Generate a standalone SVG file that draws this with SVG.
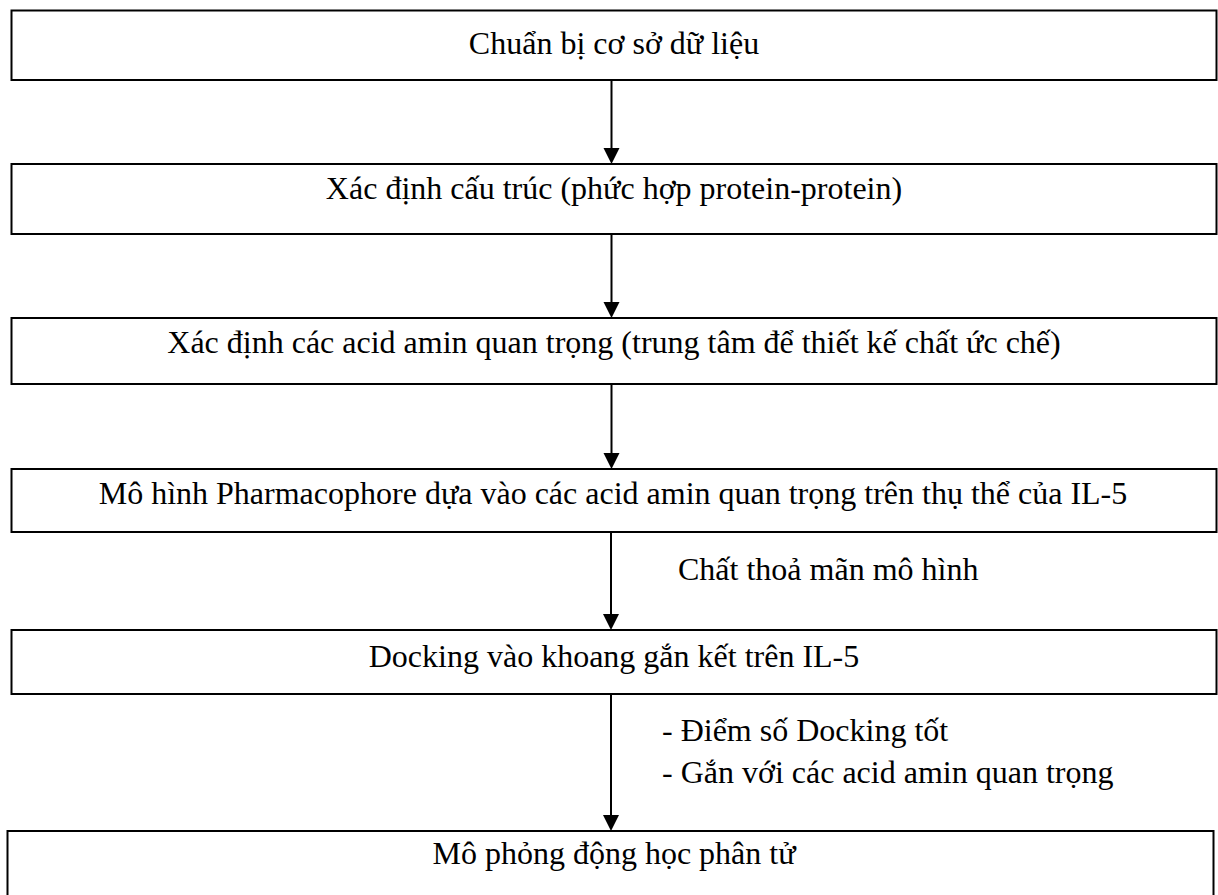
<svg xmlns="http://www.w3.org/2000/svg" width="1218" height="895" viewBox="0 0 1218 895">
<style>
.box{fill:#fff;stroke:#000;stroke-width:2}
.t{font-family:"Liberation Serif","Times New Roman",serif;font-size:32px;fill:#000}
.c{text-anchor:middle}
.conn{stroke:#000;stroke-width:2;fill:none}
.head{fill:#000}
</style>
<rect width="1218" height="895" fill="#fff"/>
<g id="connectors">
<line class="conn" x1="611.5" y1="80" x2="611.5" y2="149"/>
<path class="head" d="M603.5,148 L619.5,148 L611.5,164 Z"/>
<line class="conn" x1="611.5" y1="234" x2="611.5" y2="303"/>
<path class="head" d="M603.5,302 L619.5,302 L611.5,318 Z"/>
<line class="conn" x1="611.5" y1="384" x2="611.5" y2="454"/>
<path class="head" d="M603.5,453 L619.5,453 L611.5,469 Z"/>
<line class="conn" x1="611" y1="532" x2="611" y2="615"/>
<path class="head" d="M603,614 L619,614 L611,630 Z"/>
<line class="conn" x1="611" y1="694" x2="611" y2="816"/>
<path class="head" d="M603,815 L619,815 L611,831 Z"/>
<text class="t" x="678" y="580">Chất thoả mãn mô hình</text>
<text class="t" x="662" y="741">- Điểm số Docking tốt</text>
<text class="t" x="662" y="783">- Gắn với các acid amin quan trọng</text>
</g>
<g id="n1">
<rect class="box" x="11.5" y="10.5" width="1205" height="69.5"/>
<text class="t c" x="614" y="54">Chuẩn bị cơ sở dữ liệu</text>
</g>
<g id="n2">
<rect class="box" x="11.5" y="164" width="1205" height="70"/>
<text class="t c" x="614" y="199">Xác định cấu trúc (phức hợp protein-protein)</text>
</g>
<g id="n3">
<rect class="box" x="11.5" y="318" width="1205" height="66"/>
<text class="t c" x="614" y="353">Xác định các acid amin quan trọng (trung tâm để thiết kế chất ức chế)</text>
</g>
<g id="n4">
<rect class="box" x="11.5" y="469" width="1205" height="63"/>
<text class="t c" x="613" y="504">Mô hình Pharmacophore dựa vào các acid amin quan trọng trên thụ thể của IL-5</text>
</g>
<g id="n5">
<rect class="box" x="11.5" y="630" width="1205" height="64"/>
<text class="t c" x="614" y="667">Docking vào khoang gắn kết trên IL-5</text>
</g>
<g id="n6">
<rect class="box" x="7.5" y="831" width="1206" height="80"/>
<text class="t c" x="614" y="864">Mô phỏng động học phân tử</text>
</g>
</svg>
